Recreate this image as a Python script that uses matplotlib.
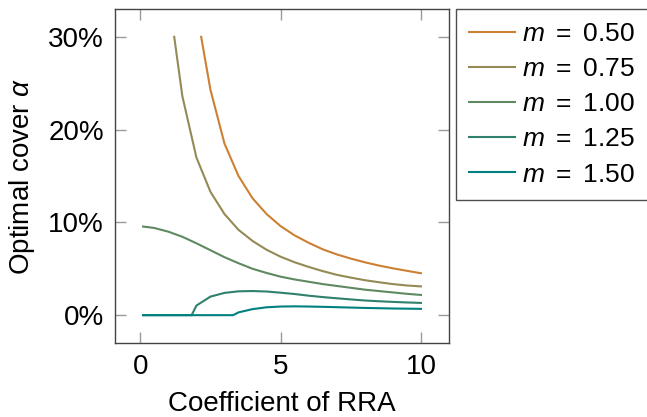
import matplotlib
matplotlib.use("Agg")
import matplotlib.pyplot as plt
from matplotlib.ticker import FuncFormatter

plt.rcParams['font.family'] = ['Liberation Sans', 'DejaVu Sans']
plt.rcParams['mathtext.fontset'] = 'custom'
plt.rcParams['mathtext.rm'] = 'Liberation Sans'
plt.rcParams['mathtext.it'] = 'Liberation Sans:italic'

# optimal cover alpha (in %) vs coefficient of RRA, one list per m
x_050 = [2.17, 2.5, 3, 3.5, 4, 4.5, 5, 5.5, 6, 6.5, 7, 7.5, 8, 8.5, 9, 9.5, 10]
y_050 = [30.0, 24.3, 18.5, 15.0, 12.6, 10.9, 9.6, 8.6, 7.8, 7.1, 6.55, 6.1, 5.7, 5.35, 5.05, 4.78, 4.52]

x_075 = [1.21, 1.5, 2, 2.5, 3, 3.5, 4, 4.5, 5, 5.5, 6, 6.5, 7, 7.5, 8, 8.5, 9, 9.5, 10]
y_075 = [30.0, 23.6, 17.0, 13.3, 10.9, 9.2, 8.0, 7.05, 6.3, 5.7, 5.2, 4.75, 4.35, 4.05, 3.77, 3.55, 3.35, 3.2, 3.1]

x_100 = [0.1, 0.5, 1, 1.5, 2, 2.5, 3, 3.5, 4, 4.5, 5, 5.5, 6, 6.5, 7, 7.5, 8, 8.5, 9, 9.5, 10]
y_100 = [9.55, 9.4, 9.0, 8.45, 7.75, 7.0, 6.25, 5.6, 5.0, 4.55, 4.15, 3.85, 3.6, 3.35, 3.15, 2.95, 2.75, 2.6, 2.45, 2.3, 2.18]

x_125 = [0.1, 1.83, 2.0, 2.5, 3, 3.5, 4, 4.5, 5, 5.5, 6, 6.5, 7, 7.5, 8, 8.5, 9, 9.5, 10]
y_125 = [0.0, 0.0, 1.03, 2.0, 2.4, 2.57, 2.6, 2.55, 2.42, 2.28, 2.1, 1.95, 1.82, 1.7, 1.58, 1.5, 1.43, 1.37, 1.32]

x_150 = [0.1, 3.31, 3.5, 4, 4.5, 5, 5.5, 6, 6.5, 7, 7.5, 8, 8.5, 9, 9.5, 10]
y_150 = [0.0, 0.0, 0.3, 0.65, 0.85, 0.93, 0.95, 0.93, 0.9, 0.86, 0.82, 0.78, 0.75, 0.72, 0.7, 0.68]

labels = ['$m$ $=$ 0.50', '$m$ $=$ 0.75', '$m$ $=$ 1.00', '$m$ $=$ 1.25', '$m$ $=$ 1.50']
colors = ['#cc8033', '#948a55', '#5f8a60', '#2f806c', '#00807f']

fig = plt.figure(figsize=(6.47, 4.17), dpi=100)
ax = fig.add_axes([115 / 647, 1 - 343 / 417, 334 / 647, 334 / 417])

series = [(x_050, y_050), (x_075, y_075), (x_100, y_100), (x_125, y_125), (x_150, y_150)]
for (xs, ys), lab, c in zip(series, labels, colors):
    ax.plot(xs, [v / 100 for v in ys], color=c, lw=1.5, label=lab)

ax.set_xlim(-0.9, 11)
ax.set_ylim(-0.03, 0.33)
ax.set_xticks([0, 5, 10])
ax.set_yticks([0, 0.1, 0.2, 0.3])
ax.yaxis.set_major_formatter(FuncFormatter(lambda v, p: '%d%%' % round(v * 100)))

ax.tick_params(direction='in', length=8, width=1, color='#999999', labelsize=20,
               top=True, right=True, pad=8)
for s in ax.spines.values():
    s.set_color('#444444')
    s.set_linewidth(1)

ax.set_xlabel('Coefficient of RRA', fontsize=20, labelpad=8)
ax.set_ylabel(r'Optimal cover $\alpha$', fontsize=20, labelpad=8)

leg = fig.legend(loc='upper left', bbox_to_anchor=(456 / 647, 1 - 9 / 417), borderaxespad=0,
                 fontsize=19, fancybox=False, handlelength=1.75, handletextpad=0.25,
                 labelspacing=0.42, borderpad=0.5)
leg.get_frame().set_edgecolor('#222222')
leg.get_frame().set_linewidth(1)

fig.savefig('out.png', dpi=100)
